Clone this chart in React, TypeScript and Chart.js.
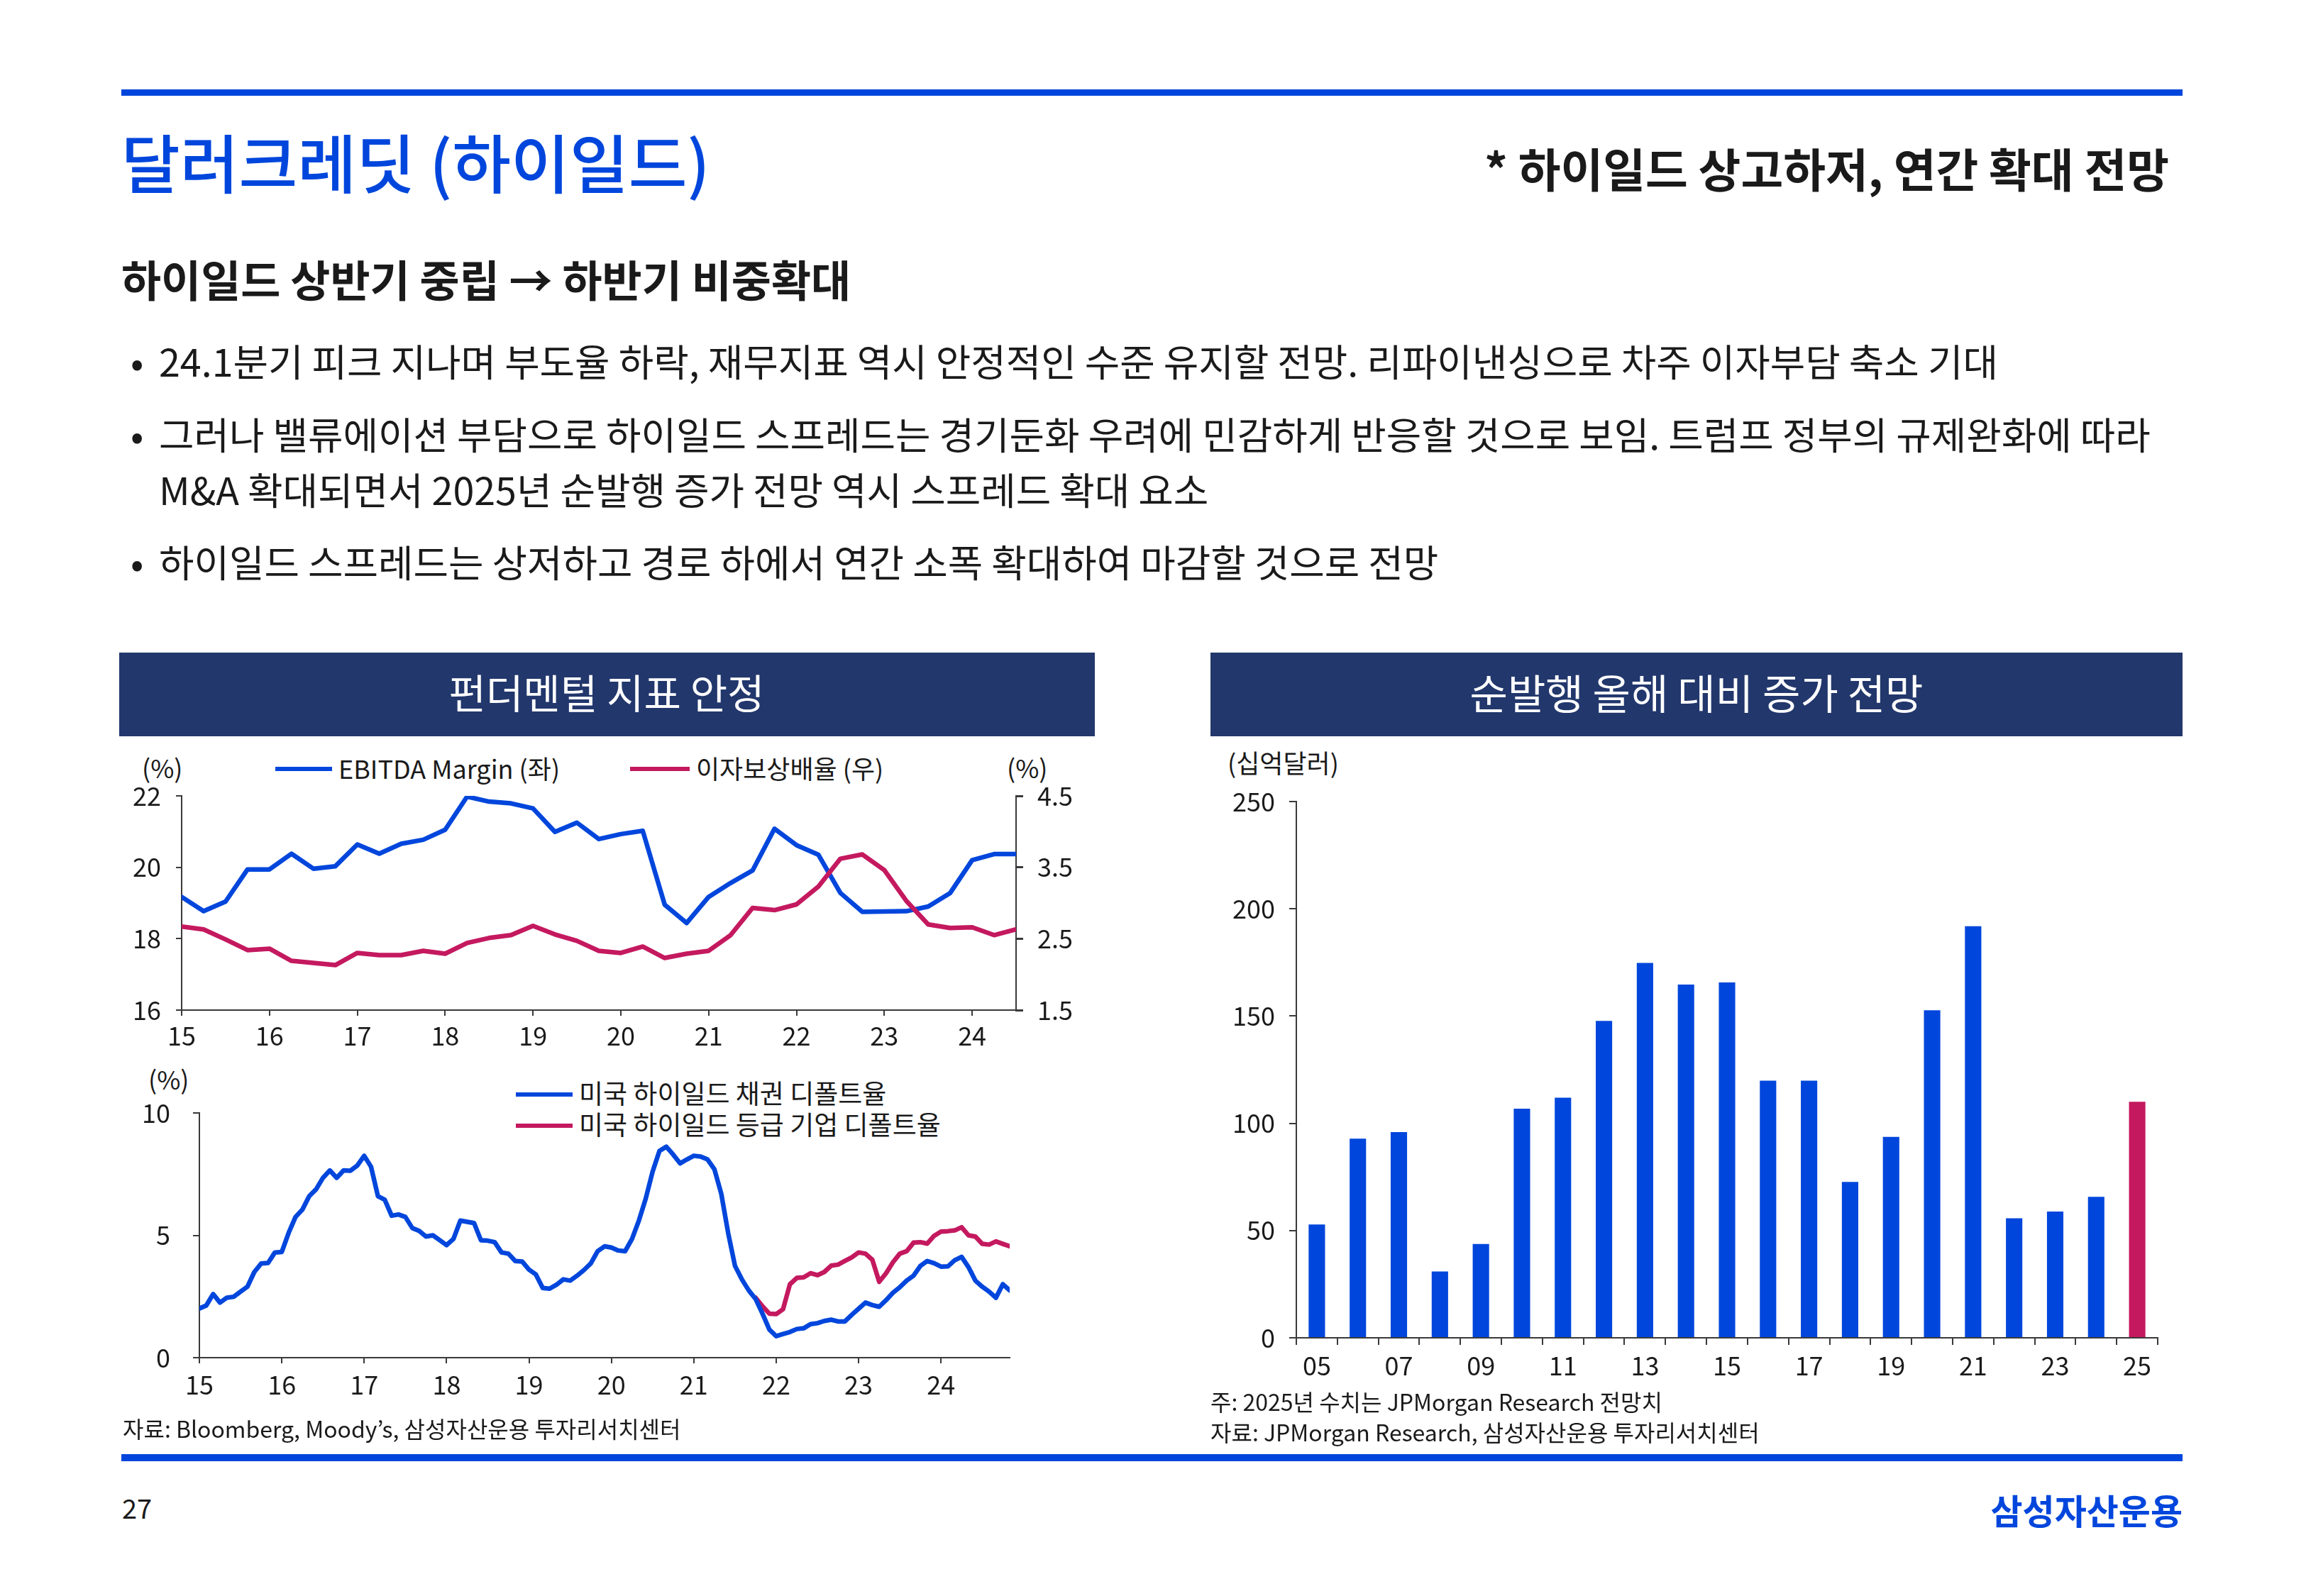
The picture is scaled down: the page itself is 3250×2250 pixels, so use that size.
import React, { useEffect, useRef } from 'react';
import { Chart, registerables } from 'chart.js';

Chart.register(...registerables);

const FONT = '"Noto Sans CJK KR", "Noto Sans", sans-serif';
const BLUE = '#0046DC';
const PINK = '#C4195F';
const NAVY = '#22376C';
const AXIS = '#3a3a3a';
const TEXT = '#1a1a1a';

Chart.defaults.font.family = FONT;
Chart.defaults.font.size = 36;
Chart.defaults.color = TEXT;

// ---- Chart 1: fundamentals (quarterly, 2015Q1 - 2024Q3) ----
const fundStartYear = 15;
const ebitdaMargin = [19.17, 18.77, 19.04, 19.94, 19.94, 20.38, 19.96, 20.03, 20.64, 20.38, 20.66, 20.77, 21.05, 21.98, 21.84, 21.79, 21.65, 20.99, 21.25, 20.79, 20.93, 21.02, 18.95, 18.44, 19.17, 19.56, 19.91, 21.08, 20.62, 20.35, 19.28, 18.75, 18.76, 18.77, 18.90, 19.28, 20.20, 20.37, 20.37];
const interestCoverage = [2.67, 2.63, 2.49, 2.34, 2.36, 2.19, 2.16, 2.13, 2.30, 2.27, 2.27, 2.33, 2.29, 2.44, 2.51, 2.55, 2.68, 2.56, 2.47, 2.33, 2.30, 2.39, 2.23, 2.29, 2.33, 2.55, 2.93, 2.90, 2.98, 3.23, 3.62, 3.68, 3.46, 3.03, 2.70, 2.65, 2.66, 2.55, 2.63];
const fundLegend = ['EBITDA Margin (좌)', '이자보상배율 (우)'];

// ---- Chart 2: default rates (monthly, 2015-01 - 2024-11) ----
const defaultStartYear = 15;
const bondDefaultRate = [
  2.01, 2.13, 2.6, 2.25, 2.45, 2.49, 2.7, 2.9, 3.5, 3.85, 3.87, 4.3,
  4.32, 5.1, 5.75, 6.05, 6.6, 6.88, 7.35, 7.65, 7.35, 7.65, 7.64, 7.85,
  8.25, 7.8, 6.6, 6.45, 5.8, 5.85, 5.75, 5.3, 5.18, 4.95, 5.0, 4.8,
  4.6, 4.85, 5.6, 5.55, 5.5, 4.8, 4.78, 4.72, 4.3, 4.25, 3.95, 3.93,
  3.6, 3.4, 2.85, 2.82, 2.98, 3.2, 3.15, 3.35, 3.58, 3.85, 4.35, 4.55,
  4.5, 4.38, 4.35, 4.85, 5.6, 6.5, 7.6, 8.45, 8.62, 8.3, 7.94, 8.1,
  8.25, 8.22, 8.1, 7.7, 6.7, 5.1, 3.75, 3.2, 2.75, 2.4, 1.8, 1.15,
  0.88, 0.97, 1.05, 1.17, 1.2, 1.37, 1.41, 1.5, 1.55, 1.48, 1.48, 1.75,
  2.0, 2.25, 2.15, 2.08, 2.35, 2.65, 2.88, 3.15, 3.35, 3.75, 3.95, 3.86,
  3.72, 3.73, 3.98, 4.12, 3.7, 3.15, 2.9, 2.7, 2.45, 3.0, 2.75
];
const issuerDefaultStartIndex = 81; // 2021-10
const issuerDefaultRate = [
  2.45, 2.1, 1.8, 1.78, 1.98, 3.0, 3.26, 3.28, 3.45, 3.37, 3.5, 3.76,
  3.8, 3.95, 4.1, 4.3, 4.25, 4.0, 3.1, 3.45, 3.9, 4.25, 4.35, 4.7,
  4.72, 4.66, 4.98, 5.15, 5.17, 5.2, 5.33, 5.0, 4.95, 4.65, 4.62, 4.75,
  4.65, 4.55
];
const defaultLegend = ['미국 하이일드 채권 디폴트율', '미국 하이일드 등급 기업 디폴트율'];

// ---- Chart 3: net issuance ----
const issueYears = ['05', '06', '07', '08', '09', '10', '11', '12', '13', '14', '15', '16', '17', '18', '19', '20', '21', '22', '23', '24', '25'];
const netIssuance = [52.8, 92.8, 95.9, 30.9, 43.7, 106.8, 111.9, 147.7, 174.8, 164.7, 165.7, 119.9, 119.9, 72.7, 93.7, 152.7, 191.9, 55.7, 58.9, 65.7, 110.0];

function ChartBox({ left, top, width, height, makeConfig }: any) {
  const ref = useRef<HTMLCanvasElement>(null);
  useEffect(() => {
    const chart = new Chart(ref.current as HTMLCanvasElement, makeConfig());
    return () => chart.destroy();
  }, []);
  return (
    <canvas
      ref={ref}
      width={width}
      height={height}
      style={{ position: 'absolute', left, top, width, height }}
    />
  );
}

function Txt({ x, y, size, weight = 400, color = TEXT, align = 'left', children }: any) {
  const style: any = {
    position: 'absolute',
    top: y - size * 0.56,
    fontSize: size,
    lineHeight: `${size}px`,
    fontWeight: weight,
    color,
    whiteSpace: 'nowrap',
    fontFamily: FONT,
  };
  if (align === 'left') style.left = x;
  else if (align === 'right') style.right = 3250 - x;
  else {
    style.left = x;
    style.transform = 'translateX(-50%)';
  }
  return <div style={style}>{children}</div>;
}

function Box({ left, top, width, height, color }: any) {
  return <div style={{ position: 'absolute', left, top, width, height, background: color }} />;
}

const axisCommon = (tickLength: number, padding: number, lineWidth = 2) => ({
  grid: { drawOnChartArea: false, drawTicks: true, tickLength, color: AXIS, lineWidth },
  border: { display: true, color: AXIS, width: 2 },
  ticks: { padding, color: TEXT, font: { size: 36, family: FONT } },
});

// remove label-overflow paddings so the layout padding alone fixes the plot area
const fixV = (w: number) => (s: any) => { s.width = w; s.paddingTop = 0; s.paddingBottom = 0; };
const fixH = (h: number) => (s: any) => { s.height = h; s.paddingLeft = 0; s.paddingRight = 0; };

const lineStyle = { borderWidth: 6.5, pointRadius: 0, tension: 0, borderJoinStyle: 'round', borderCapStyle: 'round' };

function fundConfig() {
  const x = axisCommon(8, 7);
  const y = axisCommon(8, 21);
  const y2 = axisCommon(10, 20, 3);
  return {
    type: 'line',
    data: {
      datasets: [
        {
          label: fundLegend[1],
          data: interestCoverage.map((v, i) => ({ x: fundStartYear + i / 4, y: v })),
          yAxisID: 'y2',
          borderColor: PINK,
          ...lineStyle,
        },
        {
          label: fundLegend[0],
          data: ebitdaMargin.map((v, i) => ({ x: fundStartYear + i / 4, y: v })),
          yAxisID: 'y',
          borderColor: BLUE,
          ...lineStyle,
        },
      ],
    },
    options: {
      responsive: false,
      animation: false,
      layout: { padding: { top: 22, left: 0, right: 0, bottom: 0 } },
      plugins: { legend: { display: false }, tooltip: { enabled: false } },
      scales: {
        x: {
          type: 'linear',
          min: 15,
          max: 24.5,
          ...x,
          ticks: { ...x.ticks, stepSize: 1, includeBounds: false, maxRotation: 0, callback: (v: number) => String(v) },
          afterFit: fixH(66),
        },
        y: {
          position: 'left',
          min: 16,
          max: 22,
          ...y,
          ticks: { ...y.ticks, stepSize: 2 },
          afterFit: fixV(88),
        },
        y2: {
          position: 'right',
          min: 1.5,
          max: 4.5,
          ...y2,
          ticks: { ...y2.ticks, stepSize: 1, callback: (v: number) => v.toFixed(1) },
          afterFit: fixV(111),
        },
      },
    },
  };
}

function defaultConfig() {
  const x = axisCommon(8, 9);
  const y = axisCommon(9, 32);
  return {
    type: 'line',
    data: {
      datasets: [
        {
          label: defaultLegend[0],
          data: bondDefaultRate.map((v, i) => ({ x: defaultStartYear + i / 12, y: v })),
          borderColor: BLUE,
          ...lineStyle,
        },
        {
          label: defaultLegend[1],
          data: issuerDefaultRate.map((v, i) => ({ x: defaultStartYear + (issuerDefaultStartIndex + i) / 12, y: v })),
          borderColor: PINK,
          ...lineStyle,
        },
      ],
    },
    options: {
      responsive: false,
      animation: false,
      layout: { padding: { top: 29, left: 0, right: 120, bottom: 0 } },
      plugins: { legend: { display: false }, tooltip: { enabled: false } },
      scales: {
        x: {
          type: 'linear',
          min: 15,
          max: 24 + 10 / 12,
          ...x,
          ticks: { ...x.ticks, stepSize: 1, includeBounds: false, maxRotation: 0, callback: (v: number) => String(v) },
          afterFit: fixH(86),
        },
        y: {
          position: 'left',
          min: 0,
          max: 10,
          ...y,
          ticks: { ...y.ticks, stepSize: 5 },
          afterFit: fixV(113),
        },
      },
    },
  };
}

function issuanceConfig() {
  const x = axisCommon(10, 8);
  const y = axisCommon(10, 20);
  return {
    type: 'bar',
    data: {
      labels: issueYears,
      datasets: [
        {
          data: netIssuance,
          backgroundColor: netIssuance.map((_, i) => (i === netIssuance.length - 1 ? PINK : BLUE)),
          barPercentage: 0.4,
          categoryPercentage: 1,
        },
      ],
    },
    options: {
      responsive: false,
      animation: false,
      layout: { padding: { top: 30, left: 0, right: 35, bottom: 0 } },
      plugins: { legend: { display: false }, tooltip: { enabled: false } },
      scales: {
        x: {
          ...x,
          grid: { ...x.grid, offset: true },
          ticks: {
            ...x.ticks,
            autoSkip: false,
            maxRotation: 0,
            callback: (_v: any, i: number) => (i % 2 === 0 ? issueYears[i] : ''),
          },
          afterFit: fixH(74),
        },
        y: {
          min: 0,
          max: 250,
          ...y,
          ticks: { ...y.ticks, stepSize: 50 },
          afterFit: fixV(121),
        },
      },
    },
  };
}

export default function App() {
  return (
    <div style={{ position: 'absolute', left: 0, top: 0, width: 3250, height: 2250, background: '#fff', overflow: 'hidden', fontFamily: FONT }}>
      <Box left={171} top={126} width={2905} height={9} color={BLUE} />
      <Txt x={171} y={231} size={90} weight={500} color={BLUE}>달러크레딧 (하이일드)</Txt>
      <Txt x={3057} y={240} size={65} weight={700} align="right">* 하이일드 상고하저, 연간 확대 전망</Txt>
      <Txt x={171} y={396} size={61} weight={700}>하이일드 상반기 중립 → 하반기 비중확대</Txt>

      <Txt x={184} y={511} size={54}>•</Txt>
      <Txt x={224} y={511} size={53.8}>24.1분기 피크 지나며 부도율 하락, 재무지표 역시 안정적인 수준 유지할 전망. 리파이낸싱으로 차주 이자부담 축소 기대</Txt>
      <Txt x={184} y={614} size={54}>•</Txt>
      <Txt x={224} y={614} size={53.8}>그러나 밸류에이션 부담으로 하이일드 스프레드는 경기둔화 우려에 민감하게 반응할 것으로 보임. 트럼프 정부의 규제완화에 따라</Txt>
      <Txt x={224} y={692} size={53.8}>M&amp;A 확대되면서 2025년 순발행 증가 전망 역시 스프레드 확대 요소</Txt>
      <Txt x={184} y={794} size={54}>•</Txt>
      <Txt x={224} y={794} size={53.8}>하이일드 스프레드는 상저하고 경로 하에서 연간 소폭 확대하여 마감할 것으로 전망</Txt>

      <Box left={168} top={920} width={1375} height={118} color={NAVY} />
      <Txt x={855} y={978} size={57} color="#fff" align="center">펀더멘털 지표 안정</Txt>
      <Box left={1706} top={920} width={1370} height={118} color={NAVY} />
      <Txt x={2391} y={978} size={58} color="#fff" align="center">순발행 올해 대비 증가 전망</Txt>

      {/* chart 1 legend and units */}
      <Txt x={200} y={1083} size={36}>(%)</Txt>
      <Txt x={1419} y={1083} size={36}>(%)</Txt>
      <Box left={388} top={1081} width={80} height={6} color={BLUE} />
      <Txt x={477} y={1084} size={36}>{fundLegend[0]}</Txt>
      <Box left={888} top={1081} width={84} height={6} color={PINK} />
      <Txt x={981} y={1084} size={36}>{fundLegend[1]}</Txt>
      <ChartBox left={168} top={1100} width={1375} height={390} makeConfig={fundConfig} />

      {/* chart 2 */}
      <Txt x={209} y={1522} size={36}>(%)</Txt>
      <Box left={727} top={1540} width={80} height={6} color={BLUE} />
      <Txt x={816} y={1543} size={37}>{defaultLegend[0]}</Txt>
      <Box left={727} top={1584} width={80} height={6} color={PINK} />
      <Txt x={816} y={1587} size={37}>{defaultLegend[1]}</Txt>
      <ChartBox left={168} top={1540} width={1375} height={460} makeConfig={defaultConfig} />
      <Txt x={173} y={2015} size={32}>자료: Bloomberg, Moody’s, 삼성자산운용 투자리서치센터</Txt>

      {/* chart 3 */}
      <Txt x={1730} y={1076} size={36}>(십억달러)</Txt>
      <ChartBox left={1706} top={1100} width={1370} height={860} makeConfig={issuanceConfig} />
      <Txt x={1706} y={1977} size={32}>주: 2025년 수치는 JPMorgan Research 전망치</Txt>
      <Txt x={1706} y={2020} size={32}>자료: JPMorgan Research, 삼성자산운용 투자리서치센터</Txt>

      <Box left={171} top={2050} width={2905} height={10} color={BLUE} />
      <Txt x={172} y={2127} size={38}>27</Txt>
      <Txt x={3076} y={2130} size={49} weight={700} color={BLUE} align="right">삼성자산운용</Txt>
    </div>
  );
}
